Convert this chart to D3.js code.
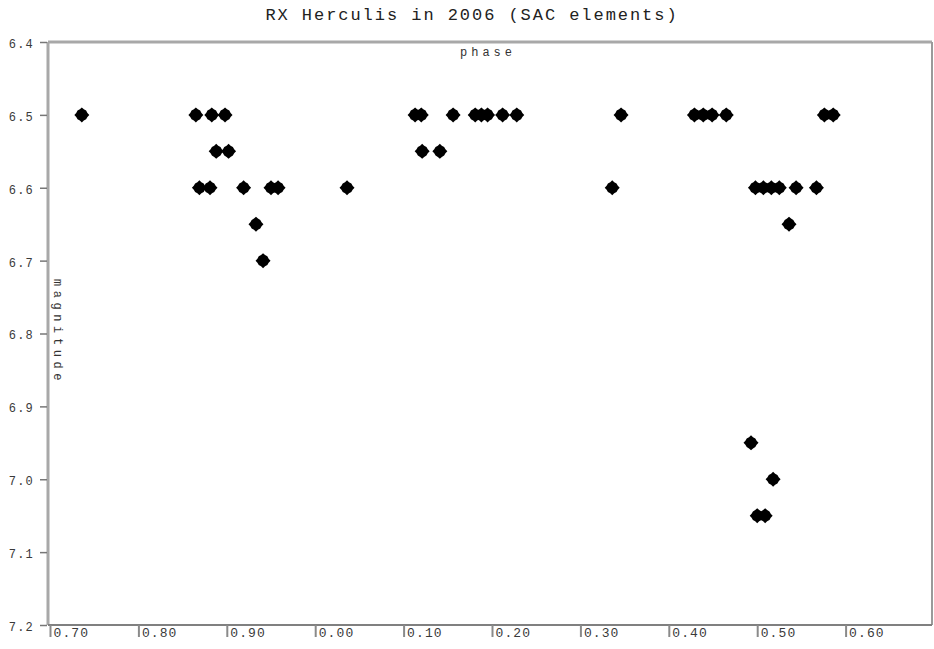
<!DOCTYPE html>
<html>
<head>
<meta charset="utf-8">
<script src="https://cdn.jsdelivr.net/npm/d3@7"></script>
<style>
  html, body { margin: 0; padding: 0; background: #fff; }
  svg { display: block; }
  text { font-family: "Liberation Mono", "DejaVu Sans Mono", monospace; }
</style>
</head>
<body>
<svg id="chart" width="934" height="649"></svg>
<script>
// Observations of RX Her folded on the SAC elements: phase (0..1) and visual magnitude
const phases = [
  0.736, 0.865, 0.883, 0.898, 0.113, 0.120, 0.156, 0.181, 0.188, 0.195, 0.212, 0.228,
  0.346, 0.429, 0.439, 0.449, 0.465, 0.576, 0.586,
  0.888, 0.902, 0.121, 0.141,
  0.869, 0.881, 0.919, 0.950, 0.958, 0.036, 0.336, 0.498, 0.507, 0.516, 0.525, 0.544, 0.567,
  0.933, 0.536,
  0.941,
  0.493,
  0.518,
  0.500, 0.509
];
const magnitudes = [
  6.5, 6.5, 6.5, 6.5, 6.5, 6.5, 6.5, 6.5, 6.5, 6.5, 6.5, 6.5,
  6.5, 6.5, 6.5, 6.5, 6.5, 6.5, 6.5,
  6.55, 6.55, 6.55, 6.55,
  6.6, 6.6, 6.6, 6.6, 6.6, 6.6, 6.6, 6.6, 6.6, 6.6, 6.6, 6.6, 6.6,
  6.65, 6.65,
  6.7,
  6.95,
  7.0,
  7.05, 7.05
];
// Phase axis runs from 0.70 through 1.0 and wraps to 0.70 again
const xTicks = [0.7, 0.8, 0.9, 1.0, 1.1, 1.2, 1.3, 1.4, 1.5, 1.6];
const xTickLabels = ["0.70", "0.80", "0.90", "0.00", "0.10", "0.20", "0.30", "0.40", "0.50", "0.60"];
const yTicks = [6.4, 6.5, 6.6, 6.7, 6.8, 6.9, 7.0, 7.1, 7.2];
const yTickLabels = ["6.4", "6.5", "6.6", "6.7", "6.8", "6.9", "7.0", "7.1", "7.2"];
const titleText = "RX Herculis in 2006 (SAC elements)";
const xTitle = "phase";
const yTitle = "magnitude";

const svg = d3.select("#chart");
const frame = { left: 48, right: 932, top: 42, bottom: 625 };

const x = d3.scaleLinear().domain([0.7, 1.7]).range([50, 934]);
const y = d3.scaleLinear().domain([6.4, 7.2]).range([frame.top, frame.bottom]);
const unwrap = p => (p < 0.7 ? p + 1 : p);

// Plot frame
svg.append("line").attr("x1", frame.left).attr("x2", frame.right)
  .attr("y1", frame.top).attr("y2", frame.top)
  .attr("stroke", "#a8a8a8").attr("stroke-width", 3);
svg.append("line").attr("x1", frame.right).attr("x2", frame.right)
  .attr("y1", frame.top).attr("y2", frame.bottom)
  .attr("stroke", "#9a9a9a").attr("stroke-width", 2);
svg.append("line").attr("x1", frame.left).attr("x2", frame.left)
  .attr("y1", frame.top).attr("y2", frame.bottom)
  .attr("stroke", "#a8a8a8").attr("stroke-width", 3);
svg.append("line").attr("x1", frame.left).attr("x2", frame.right)
  .attr("y1", frame.bottom).attr("y2", frame.bottom)
  .attr("stroke", "#808080").attr("stroke-width", 2);

// Bottom phase axis: ticks hang below, labels to the right of each tick
const xAxis = svg.append("g").attr("transform", `translate(0,${frame.bottom})`)
  .call(d3.axisBottom(x).tickValues(xTicks).tickSize(12)
    .tickFormat((d, i) => xTickLabels[i]));
xAxis.select(".domain").remove();
xAxis.selectAll(".tick line").attr("stroke", "#8a8a8a").attr("stroke-width", 2);
xAxis.selectAll(".tick text")
  .attr("text-anchor", "start").attr("x", 3).attr("y", 3).attr("dy", "0.71em")
  .attr("font-size", 13).attr("letter-spacing", 1.1).attr("fill", "#3a3a3a");

// Left magnitude axis (brightest at top)
const yAxis = svg.append("g").attr("transform", `translate(${frame.left - 1},0)`)
  .call(d3.axisLeft(y).tickValues(yTicks).tickSize(7).tickPadding(6)
    .tickFormat((d, i) => yTickLabels[i]));
yAxis.select(".domain").remove();
yAxis.selectAll(".tick line").attr("stroke", "#777").attr("stroke-width", 1.5);
yAxis.selectAll(".tick text")
  .attr("font-size", 12).attr("letter-spacing", 1.2).attr("dy", "0.45em")
  .attr("fill", "#3a3a3a");

// Titles
svg.append("text").attr("x", 472).attr("y", 20).attr("text-anchor", "middle")
  .attr("font-size", 17).attr("letter-spacing", 1.95).attr("fill", "#222")
  .text(titleText);
svg.append("text").attr("x", 488).attr("y", 56).attr("text-anchor", "middle")
  .attr("font-size", 12).attr("letter-spacing", 4).attr("fill", "#333")
  .text(xTitle);
svg.append("text").attr("transform", "translate(54,332) rotate(90)")
  .attr("text-anchor", "middle")
  .attr("font-size", 12).attr("letter-spacing", 4.6).attr("fill", "#333")
  .text(yTitle);

// Rounded four-pointed marker
const marker = "M0,-7.5L2,-5.6L4.3,-4.3L5.6,-2L7.5,0L5.6,2L4.3,4.3L2,5.6L0,7.5L-2,5.6L-4.3,4.3L-5.6,2L-7.5,0L-5.6,-2L-4.3,-4.3L-2,-5.6Z";
const points = phases.map((p, i) => ({ p, m: magnitudes[i] }));
svg.append("g").selectAll("path").data(points).join("path")
  .attr("d", marker)
  .attr("transform", d => `translate(${x(unwrap(d.p))},${y(d.m)})`)
  .attr("fill", "#000");
</script>
</body>
</html>
